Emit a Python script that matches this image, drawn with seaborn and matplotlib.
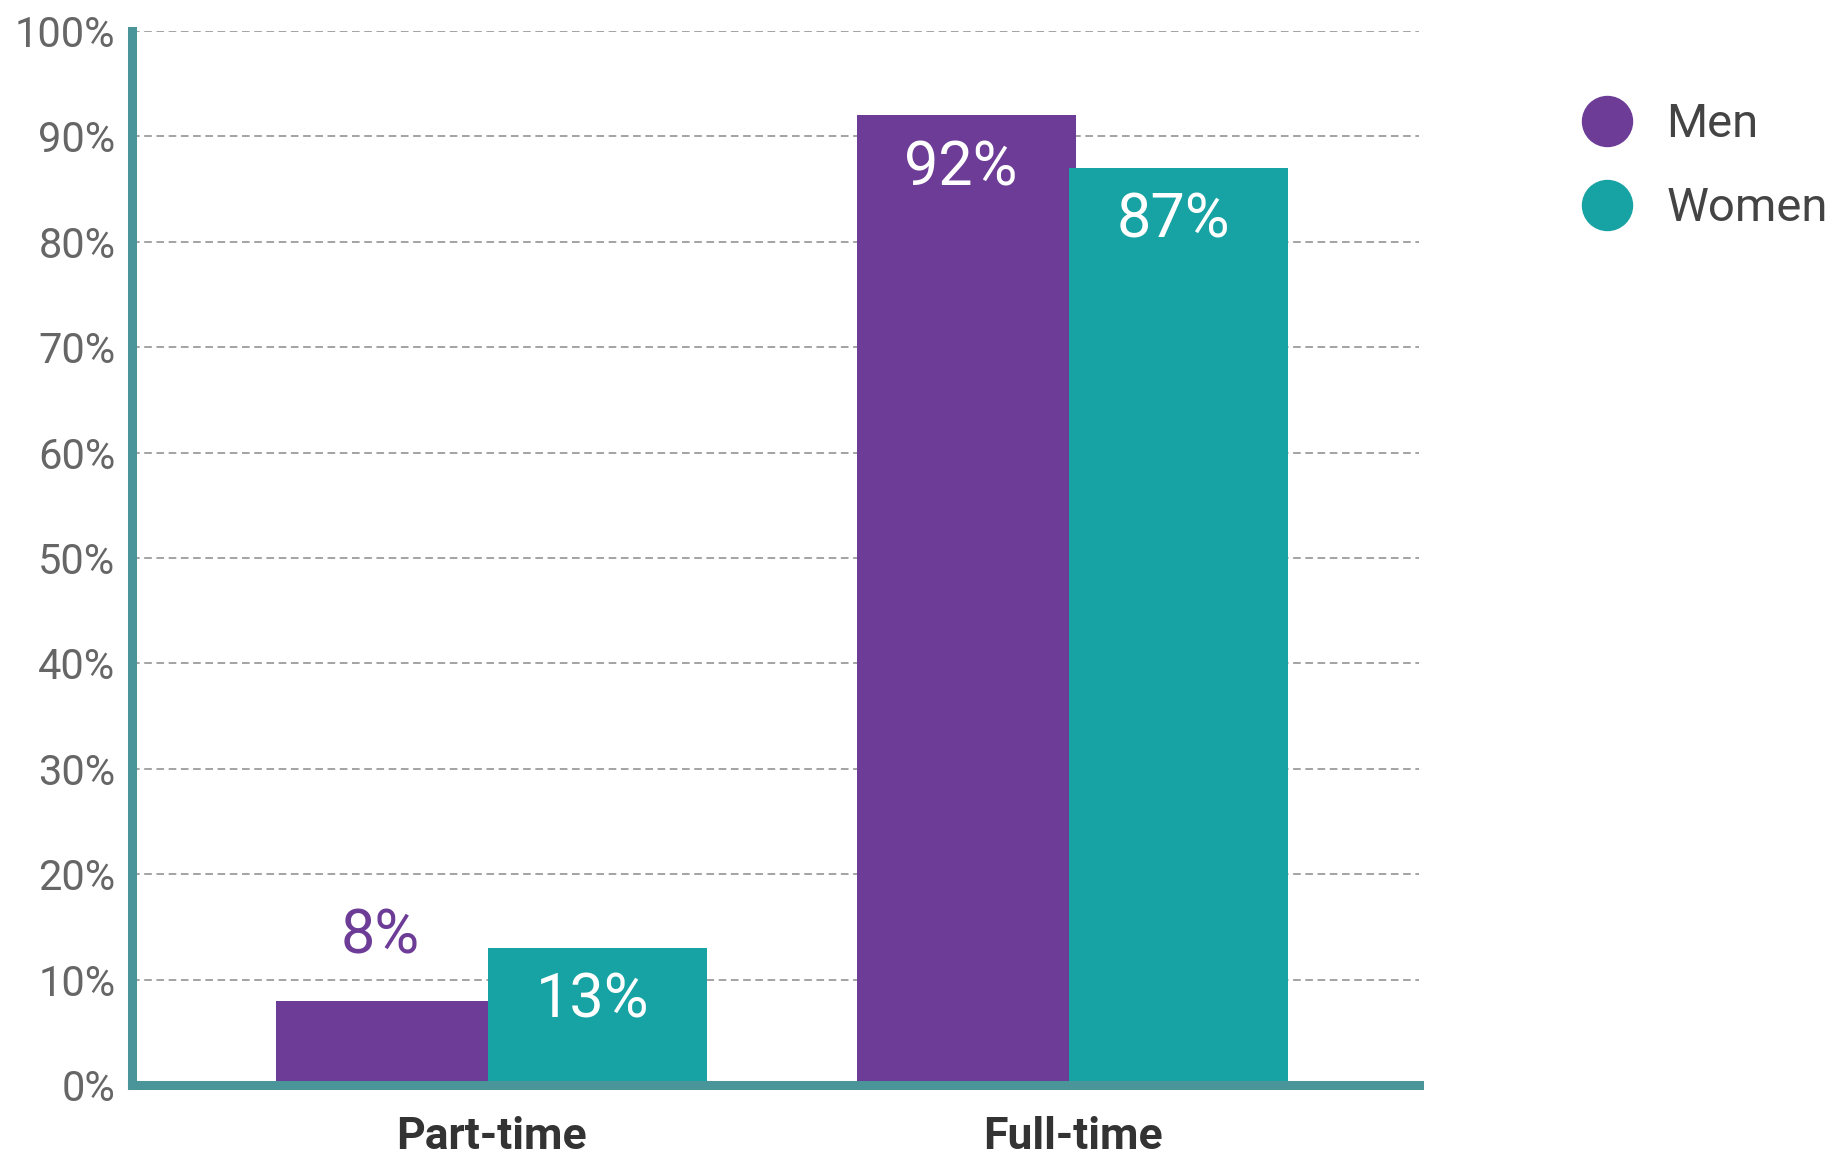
import numpy as np
import pandas as pd
import matplotlib.pyplot as plt
from matplotlib.lines import Line2D
import seaborn as sns

categories = ["Part-time", "Full-time"]
genders = ["Men", "Women"]
men_pct = [8, 92]
women_pct = [13, 87]
y_ticks = [0, 10, 20, 30, 40, 50, 60, 70, 80, 90, 100]

PURPLE = "#6c3c96"
TEAL = "#17a2a3"
SPINE = "#4a9599"

df = pd.DataFrame({
    "type": categories * 2,
    "gender": ["Men"] * len(categories) + ["Women"] * len(categories),
    "pct": men_pct + women_pct,
})

sns.set_style("white")
plt.rcParams["font.family"] = ["Roboto", "DejaVu Sans"]

fig = plt.figure(figsize=(18.49, 11.59), dpi=100)
ax = fig.add_axes([0.0714, 0.0638, 0.696, 0.9095])

sns.barplot(data=df, x="type", y="pct", hue="gender", hue_order=genders,
            order=categories, palette=[PURPLE, TEAL], width=0.73,
            saturation=1, legend=False, ax=ax, zorder=3)

# widen bars a touch so the pair overlaps like the original
bar_w = 0.378
for cont in ax.containers:
    for p in cont.patches:
        cx = p.get_x() + p.get_width() / 2
        p.set_x(cx - bar_w / 2)
        p.set_width(bar_w)
        p.set_linewidth(0)

# value labels
for cont, vals in zip(ax.containers, [men_pct, women_pct]):
    for p, v in zip(cont.patches, vals):
        cx = p.get_x() + p.get_width() / 2
        if v < 10:
            ax.annotate(f"{v}%", (cx, v), xytext=(-4, 46), textcoords="offset points",
                        ha="center", va="center", fontsize=44, color=PURPLE, zorder=5)
        else:
            ax.annotate(f"{v}%", (cx, v), xytext=(-4, -38), textcoords="offset points",
                        ha="center", va="center", fontsize=44, color="white", zorder=5)

ax.set_ylim(0, 100)
ax.set_xlim(-0.619, 1.596)
ax.set_yticks(y_ticks)
ax.set_yticklabels([f"{t}%" for t in y_ticks], fontsize=30, color="#666666")
ax.set_xticks(range(len(categories)))
ax.set_xticklabels(categories, fontsize=32, fontweight="bold", color="#333333")
ax.tick_params(axis="both", length=0)
ax.tick_params(axis="y", pad=12)
ax.tick_params(axis="x", pad=22)
ax.set_xlabel("")
ax.set_ylabel("")

ax.yaxis.grid(True, linestyle=(0, (5, 3)), color="#8a8a8a", linewidth=1.1, zorder=0)
ax.xaxis.grid(False)
ax.set_axisbelow(True)

for side in ["top", "right"]:
    ax.spines[side].set_visible(False)
for side in ["left", "bottom"]:
    ax.spines[side].set_color(SPINE)
    ax.spines[side].set_linewidth(6.5)
    ax.spines[side].set_zorder(4)

handles = [Line2D([0], [0], marker="o", linestyle="", markersize=36,
                  markerfacecolor=c, markeredgecolor=c) for c in [PURPLE, TEAL]]
fig.legend(handles, genders, loc="upper left", bbox_to_anchor=(0.845, 0.928),
           frameon=False, fontsize=34, labelcolor="#444444", handlelength=1.1,
           handletextpad=0.7, labelspacing=0.85, borderaxespad=0)

fig.savefig("out.png", dpi=100, facecolor="white")
